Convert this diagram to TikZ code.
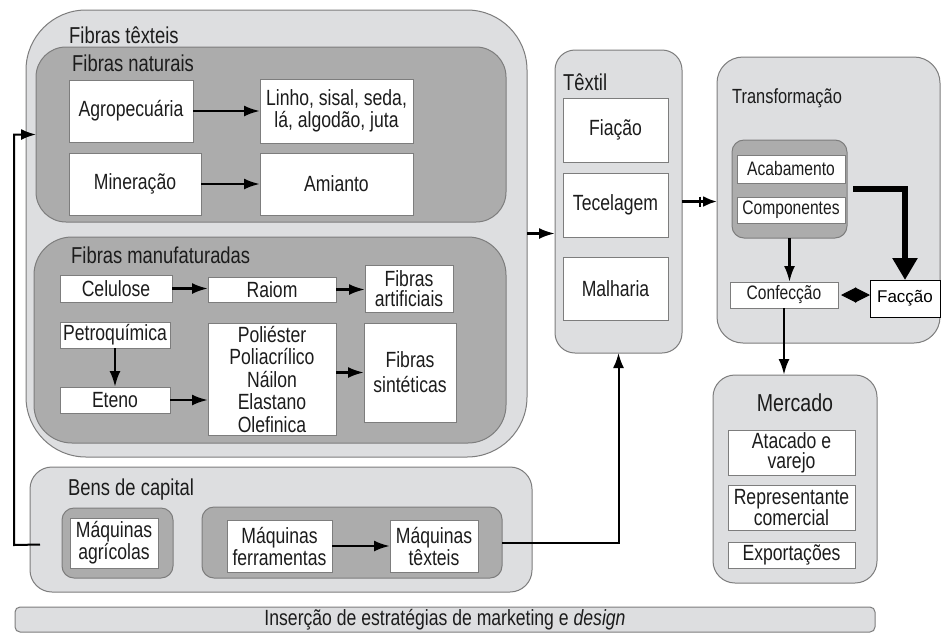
\documentclass[tikz,border=0pt]{standalone}
\usepackage{fontspec}
\setmainfont{Liberation Sans}[FakeStretch=0.8]
\newfontfamily\plainsans{Liberation Sans}
\usetikzlibrary{arrows.meta,calc}
\definecolor{lightg}{RGB}{221,222,224}
\definecolor{darkg}{RGB}{172,172,172}
\definecolor{bord}{RGB}{125,125,125}
\definecolor{txt}{RGB}{28,28,28}
\begin{document}
\begin{tikzpicture}[x=1pt,y=-1pt,
 cont/.style={draw=bord,line width=1pt,inner sep=0pt,outer sep=0pt,anchor=north west},
 light/.style={cont,fill=lightg},
 dark/.style={cont,fill=darkg},
 wbox/.style={draw=bord,fill=white,line width=0.8pt,inner sep=0pt,outer sep=0pt,anchor=north west,align=center,text=txt,font=\fontsize{22}{22}\selectfont},
 small/.style={font=\fontsize{19.5}{20}\selectfont},
 ttl/.style={anchor=west,inner sep=0pt,text=txt,font=\fontsize{23}{24}\selectfont},
 arr/.style={line width=2.6pt,draw=black,-{Latex[length=16pt,width=11pt]}},
 thin/.style={line width=2pt,draw=black,-{Latex[length=15pt,width=11pt]}},
 sz/.style n args={2}{minimum width=#1pt,minimum height=#2pt}]
\useasboundingbox (0,0) rectangle (942,633);
\fill[white] (0,0) rectangle (942,633);

% Fibras texteis
\node[light,sz={501}{447},rounded corners=60pt] (ft) at (26,10) {};
\node[ttl] (tft) at (69,35) {Fibras têxteis};
\node[dark,sz={470}{175},rounded corners=30pt] (fn) at (36,47) {};
\node[ttl] (tfn) at (72,63) {Fibras naturais};
\node[wbox,sz={124}{62}] (agro) at (69,80) {Agropecuária};
\node[wbox,sz={153}{64}] (linho) at (260,79) {Linho, sisal, seda,\\lá, algodão, juta};
\node[wbox,sz={132}{62}] (miner) at (69,153) {Mineração};
\node[wbox,sz={153}{62}] (amianto) at (260,153) {Amianto};

\node[dark,sz={472}{206},rounded corners=38pt] (fm) at (34,237) {};
\node[ttl] (tfm) at (71,255) {Fibras manufaturadas};
\node[wbox,sz={112}{27}] (celulose) at (60,275) {Celulose};
\node[wbox,sz={128}{25}] (raiom) at (208,277) {Raiom};
\node[wbox,sz={88}{47},font=\fontsize{22}{20}\selectfont] (fart) at (365,265) {Fibras\\artificiais};
\node[wbox,sz={110}{26}] (petro) at (60,322) {Petroquímica};
\node[wbox,sz={110}{26}] (eteno) at (60,387) {Eteno};
\node[wbox,sz={128}{112},font=\fontsize{22}{22.5}\selectfont] (poli) at (208,323) {Poliéster\\Poliacrílico\\Náilon\\Elastano\\Olefinica};
\node[wbox,sz={92}{99},font=\fontsize{22}{25}\selectfont] (fsint) at (364,323) {Fibras\\sintéticas};

% Bens de capital
\node[light,sz={502}{125},rounded corners=22pt] (bens) at (30,467) {};
\node[ttl] (tbens) at (68,490) {Bens de capital};
\node[dark,sz={111}{70},rounded corners=12pt] (ga) at (62,508) {};
\node[wbox,sz={88}{50}] (magr) at (70,518) {Máquinas\\agrícolas};
\node[dark,sz={300}{71},rounded corners=12pt] (gb) at (202,507) {};
\node[wbox,sz={105}{52}] (mferr) at (227,520) {Máquinas\\ferramentas};
\node[wbox,sz={88}{52}] (mtex) at (390,520) {Máquinas\\têxteis};

% Insercao
\node[light,sz={860}{25},rounded corners=5pt,text=txt,font=\fontsize{22}{22}\selectfont] (ins) at (15,607) {Inserção de estratégias de marketing e \textit{design}};

% Textil
\node[light,sz={127}{303},rounded corners=20pt] (textil) at (555,50) {};
\node[ttl] (ttex) at (563,82) {Têxtil};
\node[wbox,sz={105}{64}] (fiacao) at (563,98) {Fiação};
\node[wbox,sz={105}{64}] (tecel) at (563,173) {Tecelagem};
\node[wbox,sz={105}{63}] (malh) at (563,257) {Malharia};

% Transformacao
\node[light,sz={223}{286},rounded corners=26pt] (transf) at (717,57) {};
\node[ttl,font=\fontsize{20.5}{22}\selectfont] (ttrans) at (732,98) {Transformação};
\node[dark,sz={115}{98},rounded corners=12pt] (acg) at (732,140) {};
\node[wbox,small,sz={108}{28}] (acab) at (737,155) {Acabamento};
\node[wbox,small,sz={108}{26}] (comp) at (737,197) {Componentes};
\node[wbox,small,sz={108}{26}] (confec) at (730,282) {Confecção};
\node[draw=black,fill=white,line width=1pt,inner sep=0pt,outer sep=0pt,anchor=north west,sz={70}{37},font=\plainsans\fontsize{17}{18}\selectfont] (faccao) at (870,280) {Facção};

% Mercado
\node[light,sz={164}{208},rounded corners=22pt] (merc) at (713,375) {};
\node[inner sep=0pt,text=txt,font=\fontsize{24.5}{25}\selectfont] (tmerc) at (795,403) {Mercado};
\node[wbox,sz={127}{45},font=\fontsize{22}{20}\selectfont] (atac) at (728,430) {Atacado e\\varejo};
\node[wbox,sz={127}{45},font=\fontsize{22}{20}\selectfont] (repr) at (728,485) {Representante\\comercial};
\node[wbox,sz={127}{26}] (expo) at (728,542) {Exportações};

% connectors
\draw[arr] (agro.east) -- (agro.east -| linho.west);
\draw[arr] (miner.east) -- (miner.east -| amianto.west);
\draw[arr] (celulose.east) -- (celulose.east -| raiom.west);
\draw[arr] (raiom.east) -- (raiom.east -| fart.west);
\draw[arr] (petro.south) -- (petro.south |- eteno.north);
\draw[arr] (eteno.east) -- (eteno.east -| poli.west);
\draw[arr] (fsint.west -| poli.east) -- (fsint.west);
\draw[arr] (mferr.east) -- (mferr.east -| mtex.west);
\draw[arr] (ft.east) -- (ft.east -| textil.west);
\draw[line width=2.6pt,-{Bar[width=10pt,line width=1.6pt,sep=2pt]Latex[length=14pt,width=11pt]}] (textil.east) -- (textil.east -| transf.west);
\draw[arr] (acg.south) -- (acg.south |- confec.north);
\draw[arr] (confec.south) -- (confec.south |- merc.north);
\draw[line width=6pt,-{Triangle[length=22pt,width=24pt]}] ([xshift=6pt]acg.east) -| (faccao.north);
\draw[line width=1pt,{Triangle[length=15pt,width=15pt]}-{Triangle[length=15pt,width=15pt]}] ([xshift=3pt]confec.east) -- (confec.east -| faccao.west);
\draw[thin] (gb.east) -| (textil.south);
\coordinate (bs) at ($(bens.west)+(10,15)$);
\coordinate (bl) at (14,545);
\draw[thin] (bs) -- (bl) |- (fn.west);
\end{tikzpicture}
\end{document}
